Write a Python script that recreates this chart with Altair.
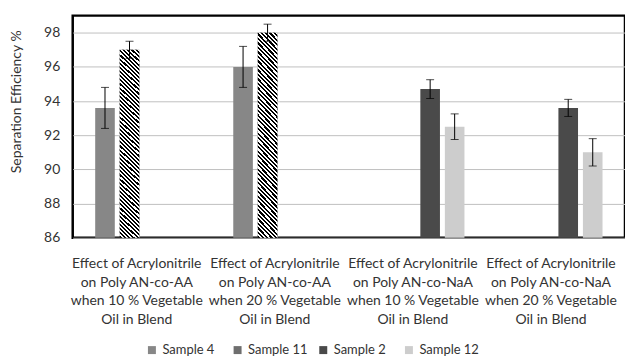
import altair as alt
import pandas as pd

categories = [
    "Effect of Acrylonitrile|on Poly AN-co-AA|when 10 % Vegetable|Oil in Blend",
    "Effect of Acrylonitrile|on Poly AN-co-AA|when 20 % Vegetable|Oil in Blend",
    "Effect of Acrylonitrile|on Poly AN-co-NaA|when 10 % Vegetable|Oil in Blend",
    "Effect of Acrylonitrile|on Poly AN-co-NaA|when 20 % Vegetable|Oil in Blend",
]
samples = ["Sample 4", "Sample 11", "Sample 2", "Sample 12"]
sample_colors = ["#878787", "#6e6e6e", "#4a4a4a", "#cdcdcd"]

bar_category = [0, 0, 1, 1, 2, 2, 3, 3]
bar_sample = ["Sample 4", "Sample 11", "Sample 4", "Sample 11",
              "Sample 2", "Sample 12", "Sample 2", "Sample 12"]
values = [93.6, 97.0, 96.0, 98.0, 94.7, 92.5, 93.6, 91.0]
errors = [1.2, 0.5, 1.2, 0.5, 0.55, 0.75, 0.5, 0.8]

y_ticks = [86, 88, 90, 92, 94, 96, 98]

df = pd.DataFrame({
    "cat": [categories[i] for i in bar_category],
    "sample": bar_sample,
    "value": values,
    "err": errors,
})
df["lo"] = df["value"] - df["err"]
df["hi"] = df["value"] + df["err"]

FONT = "Lato"
TXT = "#333333"

y_scale = alt.Scale(domain=[86, 99], zero=False, nice=False)
y_axis = alt.Axis(
    values=y_ticks, title="Separation Efficiency %", grid=True,
    gridColor="#c0c0c0", gridWidth=1, ticks=False, tickSize=0,
    domain=False, labelPadding=13, labelFontSize=14, labelColor=TXT,
    labelFont=FONT, titleFont=FONT, titleFontSize=14,
    titleFontWeight="normal", titleColor=TXT, titlePadding=20,
    titleY=86, labelOverlap=False, labelFlush=False,
)

x_enc = alt.X(
    "cat:N",
    sort=categories,
    scale=alt.Scale(domain=categories, paddingInner=0, paddingOuter=0),
    axis=alt.Axis(
        title=None, labelExpr="split(datum.label, '|')", labelAngle=0,
        ticks=False, tickSize=0, domain=False, labelFontSize=14,
        labelLineHeight=18.7, labelPadding=19, labelOffset=-5,
        labelColor=TXT, labelFont=FONT, labelLimit=300,
    ),
)
xo_enc = alt.XOffset(
    "sample:N",
    scale=alt.Scale(domain=samples, paddingInner=0.2, paddingOuter=0.917),
)

def yq(field):
    return alt.Y(field, type="quantitative", scale=y_scale, axis=y_axis)

base = alt.Chart(df)

bars = base.mark_bar().encode(
    x=x_enc,
    xOffset=xo_enc,
    y=yq("value"),
    y2=alt.datum(86),
    color=alt.Color(
        "sample:N",
        scale=alt.Scale(domain=samples, range=sample_colors),
        legend=alt.Legend(
            title=None, orient="none", legendX=73, legendY=329,
            direction="horizontal", columns=4, gridAlign="all",
            columnPadding=9, symbolType="square", symbolSize=64,
            symbolStrokeWidth=0, labelFontSize=13, labelFont=FONT,
            labelColor=TXT, labelOffset=4,
        ),
    ),
)

# diagonal stripe fill for Sample 11
n_stripes = 50
stops = []
for i in range(n_stripes):
    a = i / n_stripes
    m = (i + 0.5) / n_stripes
    b = (i + 1) / n_stripes
    stops += [
        alt.GradientStop(offset=a, color="#000000"),
        alt.GradientStop(offset=m, color="#000000"),
        alt.GradientStop(offset=m, color="#ffffff"),
        alt.GradientStop(offset=b, color="#ffffff"),
    ]
r = 10.0
s = (1 + r) / (1 + r * r)
stripe_fill = alt.LinearGradient(
    gradient="linear", stops=stops, x1=0, y1=1, x2=s, y2=1 - s * r
)

stripes = base.transform_filter(alt.datum.sample == "Sample 11").mark_bar(
    fill=stripe_fill
).encode(x=x_enc, xOffset=xo_enc, y=yq("value"), y2=alt.datum(86))

err_rule = base.mark_rule(color="black", strokeWidth=1).encode(
    x=x_enc, xOffset=xo_enc, y=yq("lo"), y2="hi:Q"
)
cap_lo = base.mark_tick(color="black", thickness=1, size=8).encode(
    x=x_enc, xOffset=xo_enc, y=yq("lo")
)
cap_hi = base.mark_tick(color="black", thickness=1, size=8).encode(
    x=x_enc, xOffset=xo_enc, y=yq("hi")
)

chart = alt.layer(bars, stripes, err_rule, cap_lo, cap_hi).properties(
    width=554.4,
    height=223,
    autosize=alt.AutoSizeParams(type="none"),
    padding={"left": 73, "top": 15, "right": 0, "bottom": 120},
    background="white",
).configure_view(stroke="black", strokeWidth=2.5)

chart.save("out.html", embed_options={"renderer": "svg", "actions": False})
